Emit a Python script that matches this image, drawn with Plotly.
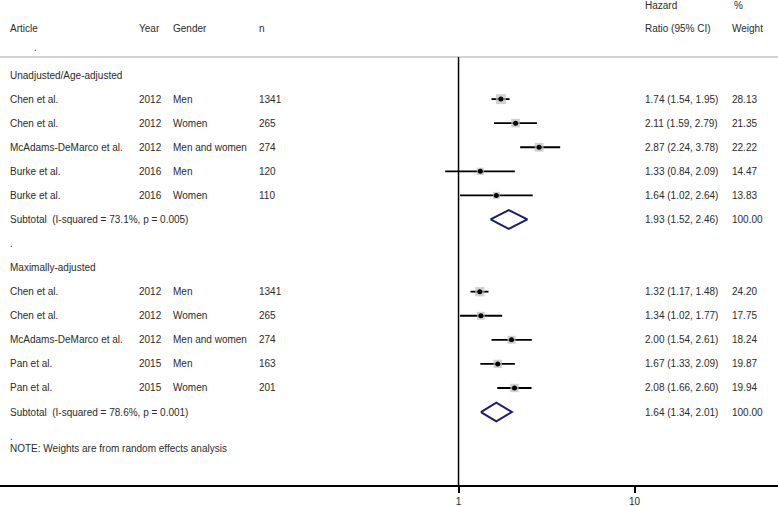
import numpy as np
import plotly.graph_objects as go

# group 1: unadjusted / age-adjusted
g1_article = ["Chen et al.", "Chen et al.", "McAdams-DeMarco et al.", "Burke et al.", "Burke et al."]
g1_year = ["2012", "2012", "2012", "2016", "2016"]
g1_gender = ["Men", "Women", "Men and women", "Men", "Women"]
g1_n = ["1341", "265", "274", "120", "110"]
g1_hr = [1.74, 2.11, 2.87, 1.33, 1.64]
g1_lo = [1.54, 1.59, 2.24, 0.84, 1.02]
g1_hi = [1.95, 2.79, 3.78, 2.09, 2.64]
g1_w = [28.13, 21.35, 22.22, 14.47, 13.83]
g1_sub = (1.93, 1.52, 2.46)
g1_sub_label = "Subtotal  (I-squared = 73.1%, p = 0.005)"

# group 2: maximally adjusted
g2_article = ["Chen et al.", "Chen et al.", "McAdams-DeMarco et al.", "Pan et al.", "Pan et al."]
g2_year = ["2012", "2012", "2012", "2015", "2015"]
g2_gender = ["Men", "Women", "Men and women", "Men", "Women"]
g2_n = ["1341", "265", "274", "163", "201"]
g2_hr = [1.32, 1.34, 2.00, 1.67, 2.08]
g2_lo = [1.17, 1.02, 1.54, 1.33, 1.66]
g2_hi = [1.48, 1.77, 2.61, 2.09, 2.60]
g2_w = [24.20, 17.75, 18.24, 19.87, 19.94]
g2_sub = (1.64, 1.34, 2.01)
g2_sub_label = "Subtotal  (I-squared = 78.6%, p = 0.001)"

W, H = 778, 506
FONT = "Liberation Sans, Arial, sans-serif"
TXT = "#2b2b2b"

fig = go.Figure()
ann = []


def text(px, row, s):
    ann.append(dict(x=px / W, xref="paper", y=row, yref="y", text=s, showarrow=False,
                    xanchor="left", yanchor="middle", font=dict(family=FONT, size=10, color=TXT)))


def group(start, title, art, yr, gen, n, hr, lo, hi, w, sub, sublabel):
    text(8, start, title)
    rows = [start + 1 + i for i in range(len(hr))]
    for r, a, y_, g, nn, h, l, u, ww in zip(rows, art, yr, gen, n, hr, lo, hi, w):
        text(8, r, a)
        text(137, r, y_)
        text(171, r, g)
        text(257, r, nn)
        text(643, r, f"{h:.2f} ({l:.2f}, {u:.2f})")
        text(730, r, f"{ww:.2f}")
        fig.add_trace(go.Scatter(x=[l, u], y=[r, r], mode="lines",
                                 line=dict(color="black", width=1.8), hoverinfo="skip"))
    # weight squares
    fig.add_trace(go.Scatter(x=hr, y=rows, mode="markers", hoverinfo="skip",
                             marker=dict(symbol="square", color="#bdbdbd", line=dict(width=0),
                                         size=[10 * np.sqrt(x / 28.13) for x in w])))
    fig.add_trace(go.Scatter(x=hr, y=rows, mode="markers", hoverinfo="skip",
                             marker=dict(symbol="circle", color="black", size=5, line=dict(width=0))))
    sr = start + 1 + len(hr)
    est, slo, shi = sub
    d = 0.39
    fig.add_trace(go.Scatter(x=[slo, est, shi, est, slo], y=[sr, sr - d, sr, sr + d, sr],
                             mode="lines", line=dict(color="#1c1c6b", width=2), hoverinfo="skip"))
    text(8, sr, sublabel)
    text(643, sr, f"{est:.2f} ({slo:.2f}, {shi:.2f})")
    text(730, sr, "100.00")


group(0, "Unadjusted/Age-adjusted", g1_article, g1_year, g1_gender, g1_n,
      g1_hr, g1_lo, g1_hi, g1_w, g1_sub, g1_sub_label)
text(8, 7, ".")
group(8, "Maximally-adjusted", g2_article, g2_year, g2_gender, g2_n,
      g2_hr, g2_lo, g2_hi, g2_w, g2_sub, g2_sub_label)
text(8, 15, ".")
text(8, 15.5, "NOTE: Weights are from random effects analysis")

# header
text(8, -1.95, "Article")
text(137, -1.95, "Year")
text(171, -1.95, "Gender")
text(257, -1.95, "n")
text(643, -2.87, "Hazard")
text(643, -1.95, "Ratio (95% CI)")
text(732, -2.87, "%")
text(730, -1.95, "Weight")
text(32, -1.16, ".")

y_top, y_bot = -3.116, 17.03
shapes = [
    dict(type="line", xref="paper", x0=0, x1=1, yref="y", y0=-0.75, y1=-0.75,
         line=dict(color="#c4c4c4", width=1.5)),
    dict(type="line", xref="x", x0=1, x1=1, yref="y", y0=-0.75, y1=y_bot,
         line=dict(color="black", width=1.5)),
]

fig.update_layout(
    width=W, height=H,
    margin=dict(l=0, r=0, t=0, b=21),
    paper_bgcolor="white", plot_bgcolor="white",
    showlegend=False,
    annotations=ann, shapes=shapes,
    font=dict(family=FONT, size=10, color=TXT),
)
fig.update_xaxes(type="log", range=[-2.605, 1.815], showgrid=False, zeroline=False,
                 showline=True, linecolor="black", linewidth=1.5,
                 ticks="outside", ticklen=6, tickwidth=1.5, tickcolor="black",
                 tickvals=[1, 10], ticktext=["1", "10"],
                 tickfont=dict(family=FONT, size=10, color=TXT))
fig.update_yaxes(range=[y_bot, y_top], showgrid=False, zeroline=False,
                 showticklabels=False, showline=False)

# drop the default page margin so the figure fills the window
fig.write_html("out.html", post_script="document.body.style.margin='0';",
               config={"displayModeBar": False})
